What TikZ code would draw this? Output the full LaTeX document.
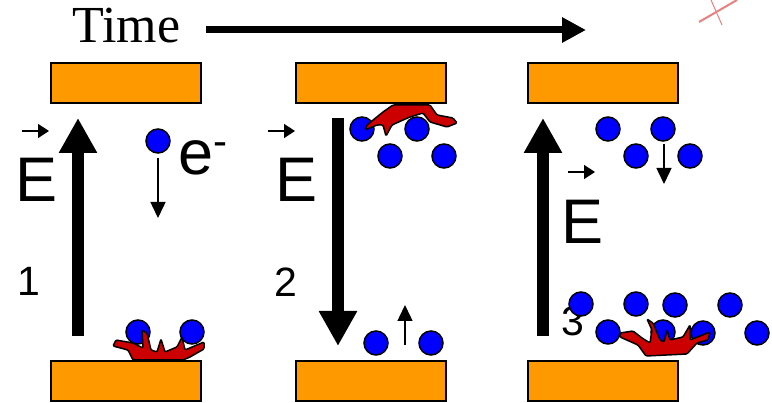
\documentclass[tikz,border=0pt]{standalone}
\usepackage{fontspec}
\usepackage{tikz}
\usetikzlibrary{arrows.meta}
\setmainfont{Liberation Sans}
\newfontfamily\timefont{Liberation Serif}
\definecolor{plateorange}{HTML}{FF9900}
\definecolor{sprayred}{HTML}{CC0000}
\definecolor{inkred}{HTML}{E88080}
\tikzset{
  plate/.style={draw,line width=1.5pt,fill=plateorange,minimum width=150pt,minimum height=40pt,inner sep=0pt},
  electron/.style={circle,draw,line width=1.5pt,fill=blue,minimum size=24pt,inner sep=0pt},
  spray/.style={draw,line width=1.5pt,fill=sprayred,rounded corners=1.2pt},
  fieldarrow/.style={line width=12pt,-{Triangle[width=36pt,length=35pt]}},
  driftarrow/.style={line width=1.5pt,-{Triangle[width=15pt,length=16pt]}},
  fieldmark/.style={line width=1.5pt,-{Triangle[width=14pt,length=11pt]}},
  bigletter/.style={anchor=base west,inner sep=0pt,font=\fontsize{63}{63}\selectfont},
  panelnum/.style={anchor=base west,inner sep=0pt,font=\fontsize{41}{41}\selectfont}
}
\begin{document}
\begin{tikzpicture}[x=1pt,y=-1pt]
\useasboundingbox (0,0) rectangle (772,403);
% time axis
\node (timelabel) [anchor=base west,inner sep=0pt,font=\timefont\fontsize{52}{52}\selectfont] at (72,43) {Time};
\coordinate (timestart) at (206,30);
\coordinate (timeend) at (586,30);
\path [draw,line width=7pt,-{Triangle[width=24pt,length=24pt]}] (timestart) -- (timeend);
% plates
\foreach \px/\name in {126/a,371/b,603/c} {
  \node (top\name) [plate] at (\px,83) {};
  \node (bot\name) [plate] at (\px,381) {};
}
% field arrows
\coordinate (fielda0) at (78,336);
\coordinate (fielda1) at (78,118);
\coordinate (fieldb0) at (338,118);
\coordinate (fieldb1) at (338,346);
\coordinate (fieldc0) at (543,336);
\coordinate (fieldc1) at (543,118);
\path [draw,fieldarrow] (fielda0) -- (fielda1);
\path [draw,fieldarrow] (fieldb0) -- (fieldb1);
\path [draw,fieldarrow] (fieldc0) -- (fieldc1);
% field labels
\node (Ea) [bigletter] at (15,202) {E};
\node (Eb) [bigletter] at (275,202) {E};
\node (Ec) [bigletter] at (561,244) {E};
\coordinate (marka0) at (22,131);
\coordinate (marka1) at (49,131);
\coordinate (markb0) at (268,131);
\coordinate (markb1) at (295,131);
\coordinate (markc0) at (568,172);
\coordinate (markc1) at (595,172);
\path [draw,fieldmark] (marka0) -- (marka1);
\path [draw,fieldmark] (markb0) -- (markb1);
\path [draw,fieldmark] (markc0) -- (markc1);
% panel numbers
\node (numa) [panelnum] at (17,296) {1};
\node (numb) [panelnum] at (274,297) {2};
\node (numc) [panelnum] at (561,336) {3};
% electrons
\foreach \ex/\ey [count=\n] in {158/141,138/332,192/332,362/129,417/129,390/156,444/156,376/343,431/343,
  608/129,663/129,636/156,690/156,581/304,636/304,675/305,730/305,608/332,663/332,703/333,757/333} {
  \node (el\n) [electron] at (\ex,\ey) {};
}
\node (elabel) [anchor=base west,inner sep=0pt,font=\fontsize{63}{63}\selectfont] at (178,175) {e};
\node (echarge) [anchor=base west,inner sep=0pt,font=\fontsize{42}{42}\selectfont] at (213,156) {-};
% drift arrows
\coordinate (drifta0) at (158,158);
\coordinate (drifta1) at (158,218);
\coordinate (driftb0) at (405,345);
\coordinate (driftb1) at (405,305);
\coordinate (driftc0) at (664,144);
\coordinate (driftc1) at (664,184);
\path [draw,driftarrow] (drifta0) -- (drifta1);
\path [draw,driftarrow] (driftb0) -- (driftb1);
\path [draw,driftarrow] (driftc0) -- (driftc1);
% sprays on the plates
\path [spray] (133,360) -- (128,350) -- (113,346) -- (116,340) -- (133,343) -- (143,348) -- (142,330)
  -- (147,333) -- (151,350) -- (157,352) -- (161,339) -- (165,352) -- (177,347) -- (182,337) -- (185,350)
  -- (204,342) -- (204,349) -- (190,357) -- (183,360) -- cycle;
\path [spray] (393,105) -- (430,105) -- (437,115) -- (453,118) -- (457,123) -- (447,127) -- (430,122)
  -- (423,113) -- (410,117) -- (403,120) -- (392,125) -- (386,136) -- (383,125) -- (377,125) -- (365,130)
  -- (367,125) -- (383,112) -- cycle;
\path [spray] (620,333) -- (633,331) -- (642,338) -- (650,343) -- (652,330) -- (647,319) -- (653,323)
  -- (660,340) -- (664,342) -- (667,330) -- (670,340) -- (683,337) -- (690,325) -- (690,340) -- (710,332)
  -- (708,340) -- (697,343) -- (687,354) -- (646,356) -- (638,345) -- (620,337) -- cycle;
% pen marks
\coordinate (pena0) at (699,22);
\coordinate (pena1) at (737,0);
\coordinate (penb0) at (711,0);
\coordinate (penb1) at (722,25);
\path [draw,inkred,line width=2pt] (pena0) -- (pena1);
\path [draw,inkred,line width=1pt] (penb0) -- (penb1);
\end{tikzpicture}
\end{document}
